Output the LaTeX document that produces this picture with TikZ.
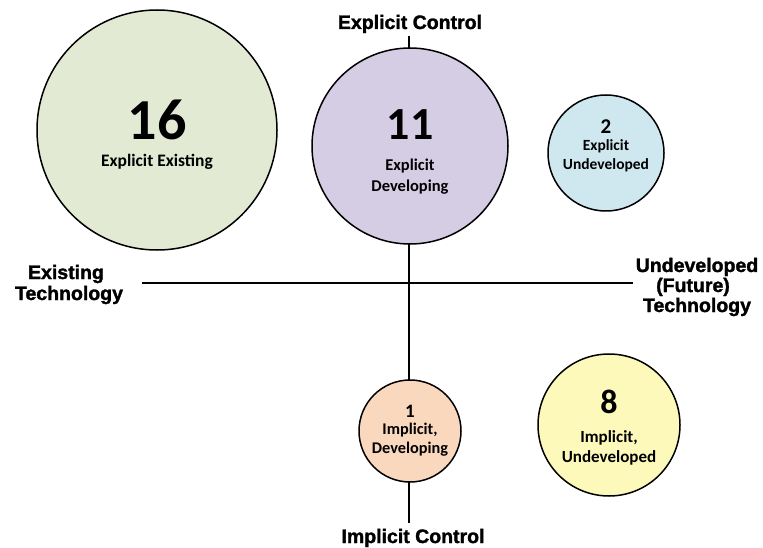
\documentclass[tikz,border=0pt]{standalone}
\usepackage{fontspec}
\setmainfont{Carlito}
\newfontfamily\axisfont{Liberation Sans Bold}[FakeBold=1.6]
\definecolor{cgreen}{RGB}{226,234,212}
\definecolor{cpurple}{RGB}{213,205,227}
\definecolor{cblue}{RGB}{207,231,239}
\definecolor{cpeach}{RGB}{250,216,190}
\definecolor{cyellow}{RGB}{252,249,186}
\begin{document}
\begin{tikzpicture}[x=1pt,y=-1pt,
  bubble/.style={circle,draw=black,line width=1.5pt,inner sep=0pt},
  axisline/.style={line width=2.6pt,black},
  axislabel/.style={font=\axisfont\fontsize{19.5}{21}\selectfont,inner sep=0pt,anchor=base},
  ctext/.style={font=\bfseries\fontsize{#1}{#1}\selectfont,inner sep=0pt,anchor=base},
]
\path[use as bounding box] (0,0) rectangle (763,548);

% axis end points
\coordinate (top) at (409,36);
\coordinate (bot) at (409,523);
\coordinate (left) at (142,283);
\coordinate (right) at (633,283);
\draw[axisline] (top) -- (bot);
\draw[axisline] (left) -- (right);

% bubbles
\node[bubble,fill=cgreen,minimum size=240pt] (c16) at (157,130) {};
\node[bubble,fill=cpurple,minimum size=196pt] (c11) at (410,146) {};
\node[bubble,fill=cblue,minimum size=116pt] (c2) at (606,153) {};
\node[bubble,fill=cpeach,minimum size=102pt] (c1) at (410,431) {};
\node[bubble,fill=cyellow,minimum size=142pt] (c8) at (609,425) {};

% bubble texts
\node[ctext=58] (n16) at (157,140) {16};
\node[ctext=17.5] (t16) at (157,167) {Explicit Existing};

\node[ctext=46] (n11) at (410,140) {11};
\node[ctext=16.5] (t11a) at (410,171) {Explicit};
\node[ctext=16.5] (t11b) at (410,192) {Developing};

\node[ctext=21] (n2) at (606,134) {2};
\node[ctext=15.5] (t2a) at (606,151) {Explicit};
\node[ctext=15.5] (t2b) at (606,170) {Undeveloped};

\node[ctext=19] (n1) at (410,417) {1};
\node[ctext=16.3] (t1a) at (410,434) {Implicit,};
\node[ctext=16.3] (t1b) at (410,453) {Developing};

\node[ctext=34] (n8) at (609,413) {8};
\node[ctext=17] (t8a) at (609,442) {Implicit,};
\node[ctext=17] (t8b) at (609,462) {Undeveloped};

% axis labels
\node[axislabel] (ec) at (410,29) {Explicit Control};
\node[axislabel] (ic) at (413,543) {Implicit Control};
\node[axislabel] (et1) at (66,279) {Existing};
\node[axislabel] (et2) at (69,300) {Technology};
\node[axislabel] (ut1) at (697,272) {Undeveloped};
\node[axislabel] (ut2) at (693,292) {(Future)};
\node[axislabel] (ut3) at (697,312) {Technology};
\end{tikzpicture}
\end{document}
